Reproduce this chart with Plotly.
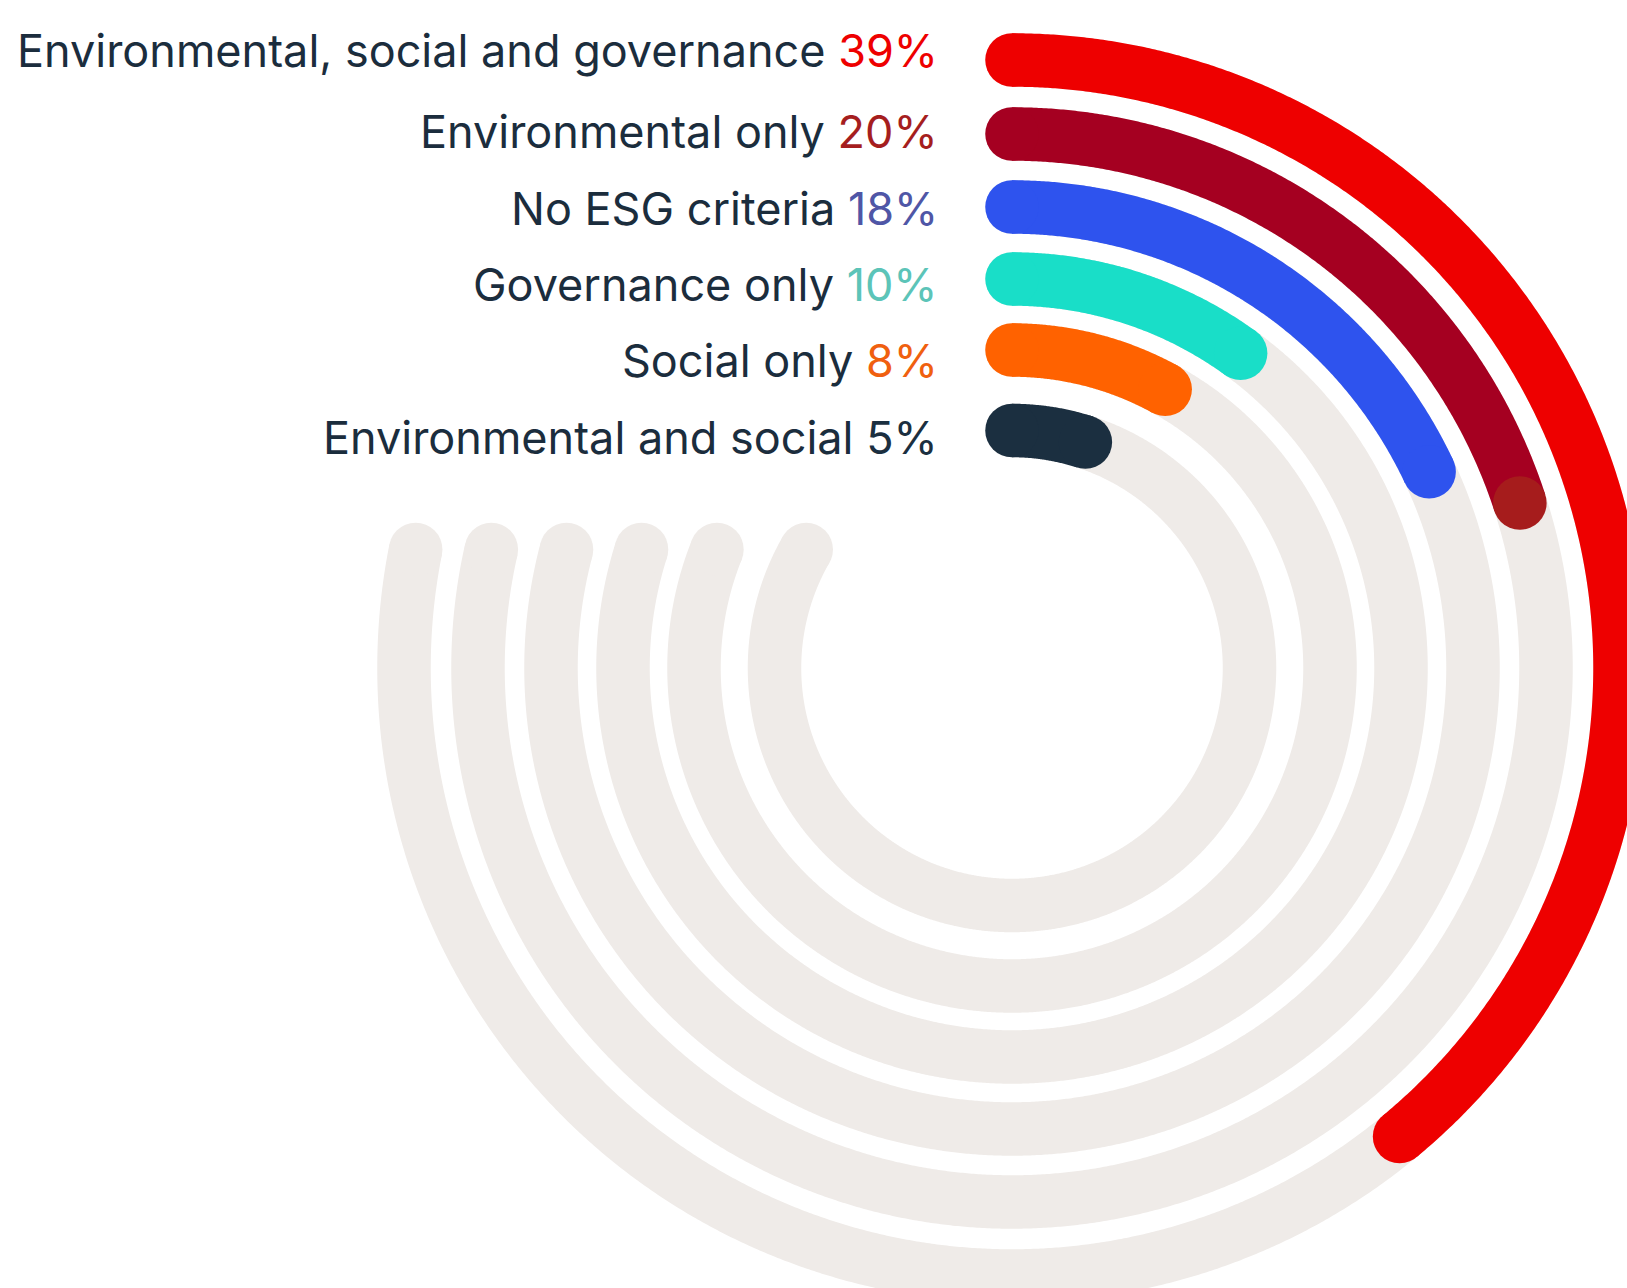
import numpy as np
import plotly.graph_objects as go

# ---- data -------------------------------------------------------------
categories = [
    "Environmental, social and governance",
    "Environmental only",
    "No ESG criteria",
    "Governance only",
    "Social only",
    "Environmental and social",
]
shares = [39, 20, 18, 10, 8, 5]          # percent of respondents
value_labels = ["39%", "20%", "18%", "10%", "8%", "5%"]

# ---- styling ----------------------------------------------------------
bar_colors = ["#EE0000", "#A50021", "#2E53EE", "#19DEC8", "#FF6200", "#1B2F40"]
cap_colors = ["#EE0000", "#A61C1C", "#2E53EE", "#19DEC8", "#FF6200", "#1B2F40"]
value_colors = ["#EE0000", "#A51E1E", "#4F56A6", "#5CC4B8", "#F0600F", "#1B2F40"]
text_color = "#1B2D3D"
track_color = "#EFEBE8"

W, H = 1627, 1288
CX, CY = 1012, 668              # centre of the rings (px from top-left)
ring_radius = [608, 534, 461, 389, 318, 237.5]
stroke = 53.5
track_level = 118.6             # all grey tracks stop at this height above centre
label_right = 940
label_y = [50, 131, 209, 284, 361, 437]
FONT = "Inter"
FONT_SIZE = 45

DEG_PER_PCT = 3.6               # 100 % = full circle, clockwise from 12 o'clock


def to_xy(r, theta_deg):
    t = np.radians(np.asarray(theta_deg, dtype=float))
    return r * np.sin(t), r * np.cos(t)


def arc(r, t0, t1, color):
    n = max(2, int(abs(t1 - t0) / 0.25) + 1)
    x, y = to_xy(r, np.linspace(t0, t1, n))
    return go.Scatter(
        x=x, y=y, mode="lines",
        line=dict(color=color, width=stroke, simplify=False),
        hoverinfo="skip", showlegend=False,
    )


def caps(r, thetas, colors):
    x, y = to_xy(r, thetas)
    return go.Scatter(
        x=x, y=y, mode="markers",
        marker=dict(size=stroke, color=colors, line=dict(width=0)),
        cliponaxis=False, hoverinfo="skip", showlegend=False,
    )


fig = go.Figure()

# grey tracks, each ending on a common horizontal level on the left
for r in ring_radius:
    t_end = 360 - np.degrees(np.arccos(track_level / r))
    fig.add_trace(arc(r, 0, t_end, track_color))
    fig.add_trace(caps(r, [0, t_end], [track_color, track_color]))

# coloured value arcs with rounded ends
for r, v, c, cc in zip(ring_radius, shares, bar_colors, cap_colors):
    t_end = v * DEG_PER_PCT
    fig.add_trace(arc(r, 0, t_end, c))
    fig.add_trace(caps(r, [0], [c]))
    fig.add_trace(caps(r, [t_end], [cc]))

# category labels with coloured values
for name, val, vc, y in zip(categories, value_labels, value_colors, label_y):
    fig.add_annotation(
        x=label_right / W, y=1 - y / H, xref="paper", yref="paper",
        xanchor="right", yanchor="middle", showarrow=False,
        text=f"{name} <span style='color:{vc}'>{val}</span>",
        font=dict(family=FONT, size=FONT_SIZE, color=text_color),
    )

axis = dict(visible=False, showgrid=False, zeroline=False, fixedrange=True)
fig.update_layout(
    width=W, height=H,
    margin=dict(l=0, r=0, t=0, b=0),
    paper_bgcolor="white",
    plot_bgcolor="white",
    showlegend=False,
    xaxis=dict(range=[-CX, W - CX], **axis),
    yaxis=dict(range=[CY - H, CY], **axis),
)

fig.write_html("out.html")
